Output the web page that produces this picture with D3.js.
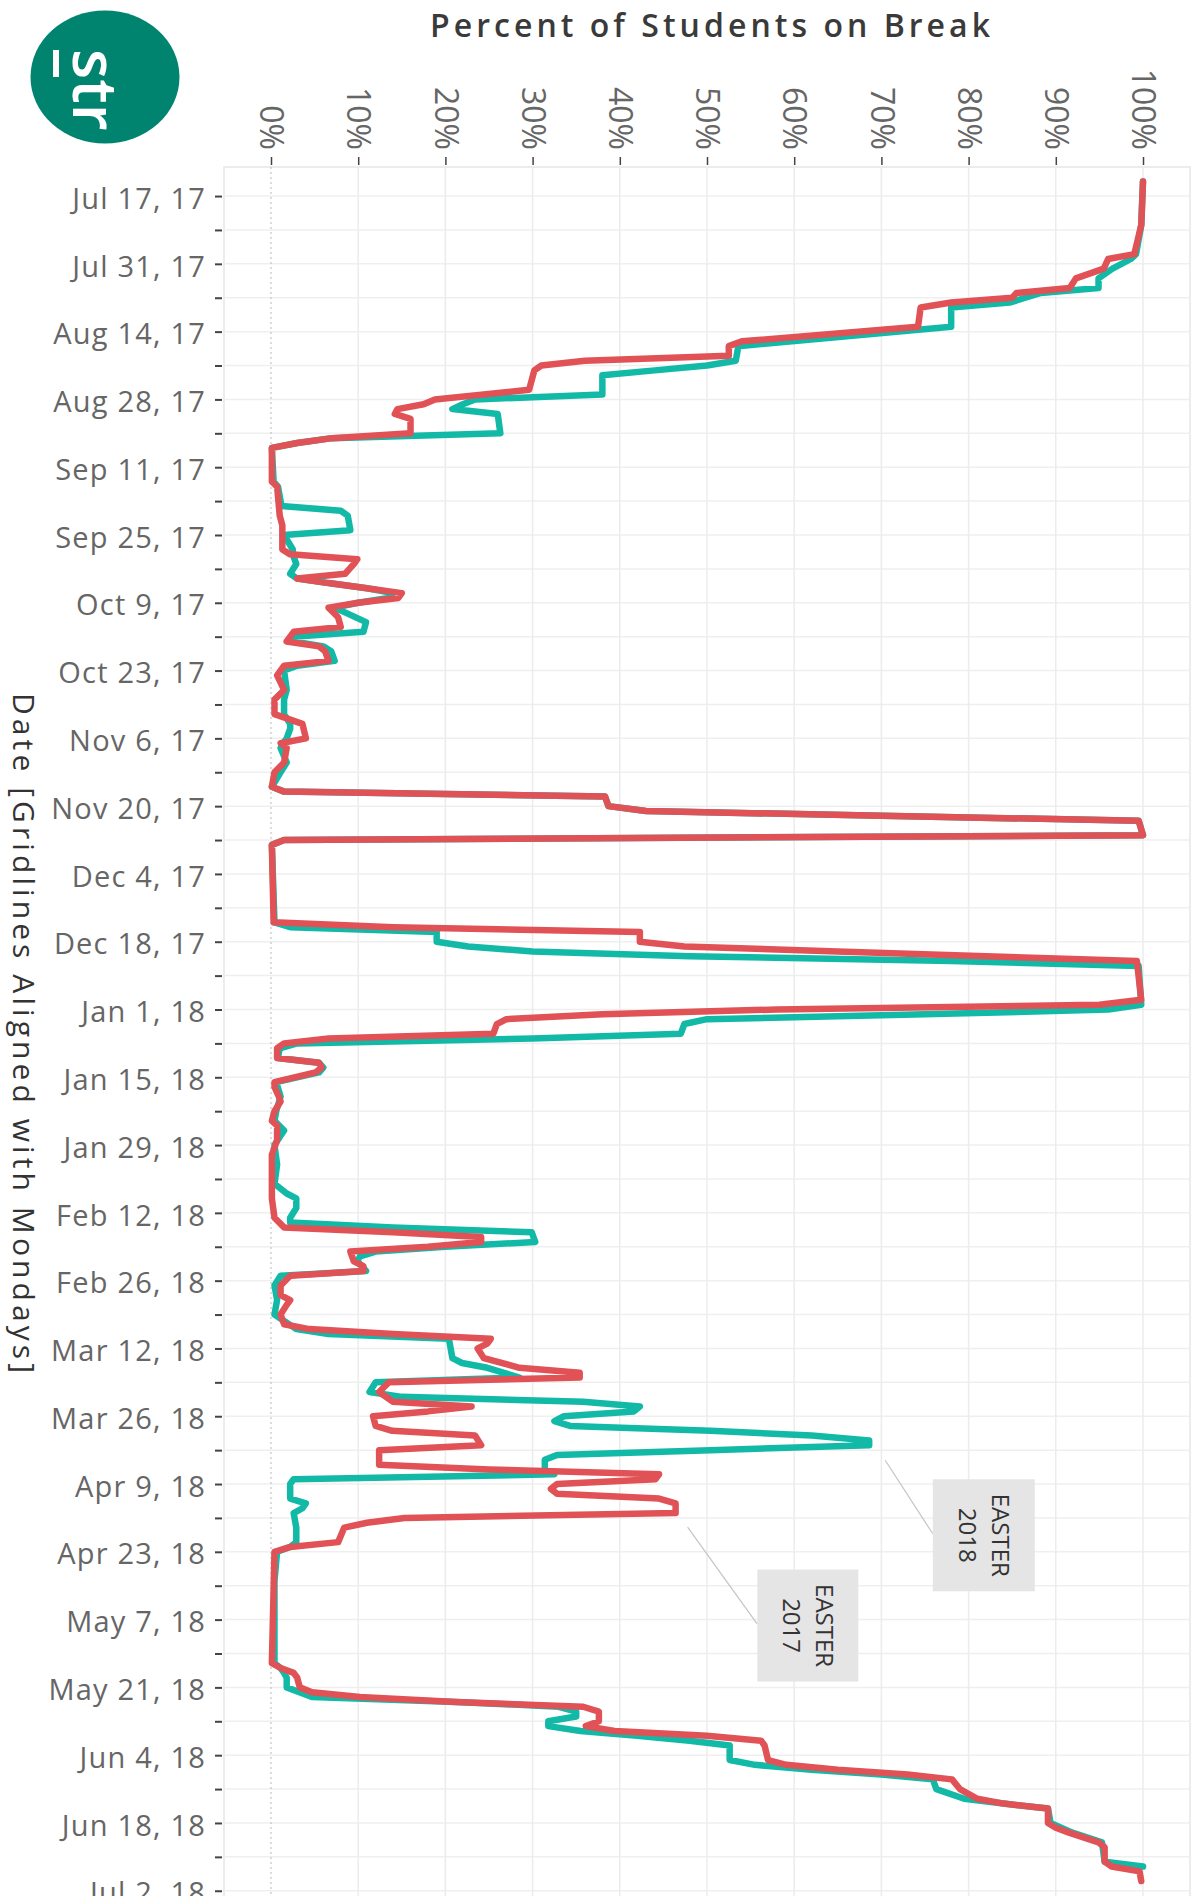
<!DOCTYPE html>
<html><head><meta charset="utf-8">
<script src="https://cdn.jsdelivr.net/npm/d3@7"></script>
<style>
html,body{margin:0;padding:0;background:#fff;}
svg{display:block;font-family:"Open Sans",sans-serif;}
</style></head>
<body>
<svg id="chart" width="1199" height="1896"></svg>
<script>
// ---------- DATA ----------
const chartTitle = "Percent of Students on Break";
const axisTitle = "Date [Gridlines Aligned with Mondays]";
const percentTicks = [0,10,20,30,40,50,60,70,80,90,100];

// Teal series (2017/18 school year)
const teal = [
 ["2017-07-14",100],["2017-07-23",99.8],["2017-07-29",99.2],["2017-07-30",98.6],["2017-08-01",96.5],
 ["2017-08-03",94.9],["2017-08-05",94.9],["2017-08-06",88.3],["2017-08-07",86.5],["2017-08-08",84.7],
 ["2017-08-09",78],["2017-08-13",78],["2017-08-17",53.6],["2017-08-20",53.3],["2017-08-21",50],
 ["2017-08-22",44],["2017-08-23",38],["2017-08-27",38],["2017-08-28",23.4],["2017-08-29",22],
 ["2017-08-30",20.8],["2017-08-31",26],["2017-09-04",26.3],["2017-09-05",7],["2017-09-06",3],
 ["2017-09-07",0.1],["2017-09-14",0.3],["2017-09-15",0.8],["2017-09-19",1.2],["2017-09-20",8],
 ["2017-09-21",8.8],["2017-09-24",9.1],["2017-09-25",1.5],["2017-09-28",2.5],["2017-09-29",2.5],
 ["2017-10-01",2.9],["2017-10-03",2.2],["2017-10-04",3],["2017-10-05",7],["2017-10-06",11],
 ["2017-10-07",14],["2017-10-08",13.5],["2017-10-09",10],["2017-10-10",7.3],["2017-10-13",10.9],
 ["2017-10-15",10.6],["2017-10-16",2.6],["2017-10-17",2.6],["2017-10-18",6],["2017-10-19",6.9],
 ["2017-10-21",7.3],["2017-10-22",3],["2017-10-23",1.5],["2017-10-27",1.8],["2017-10-29",1.5],
 ["2017-11-01",1.5],["2017-11-03",2.2],["2017-11-04",2.2],["2017-11-06",1.8],["2017-11-07",1.4],
 ["2017-11-08",1.1],["2017-11-11",1.8],["2017-11-13",1.1],["2017-11-16",0.1],["2017-11-17",1.5],
 ["2017-11-18",38.3],["2017-11-20",38.7],["2017-11-21",43],["2017-11-22",70],["2017-11-23",99.5],
 ["2017-11-26",100],["2017-11-27",1.5],["2017-11-28",0.1],["2017-12-14",0.4],["2017-12-15",2.2],
 ["2017-12-16",19],["2017-12-18",19],["2017-12-19",22.6],["2017-12-20",30],["2017-12-21",48],
 ["2017-12-22",78],["2017-12-23",99.5],["2017-12-31",99.8],["2018-01-01",96],["2018-01-02",75],
 ["2018-01-03",50],["2018-01-04",47.4],["2018-01-06",47],["2018-01-07",30],["2018-01-08",3],
 ["2018-01-09",1],["2018-01-11",0.8],["2018-01-12",5.5],["2018-01-13",6],["2018-01-14",5.5],
 ["2018-01-16",0.6],["2018-01-19",1.1],["2018-01-22",0.6],["2018-01-24",0.4],["2018-01-26",1.5],
 ["2018-01-29",0.4],["2018-02-02",0.7],["2018-02-06",0.4],["2018-02-08",1.8],["2018-02-09",2.9],
 ["2018-02-11",2.9],["2018-02-13",2.2],["2018-02-14",2.2],["2018-02-15",14],["2018-02-16",29.9],
 ["2018-02-18",30.3],["2018-02-19",20],["2018-02-20",12],["2018-02-21",10.2],["2018-02-22",9.9],
 ["2018-02-24",10.9],["2018-02-25",1.1],["2018-02-27",0.4],["2018-03-02",0.7],["2018-03-05",0.4],
 ["2018-03-08",2.9],["2018-03-09",6.6],["2018-03-10",20.4],["2018-03-14",20.8],["2018-03-15",21.9],
 ["2018-03-16",24.8],["2018-03-18",28.5],["2018-03-19",12],["2018-03-21",11.3],["2018-03-22",15],
 ["2018-03-23",35.8],["2018-03-24",42.3],["2018-03-25",41.6],["2018-03-26",33.6],["2018-03-27",32.5],
 ["2018-03-28",34.3],["2018-03-29",50.4],["2018-03-30",62],["2018-03-31",68.6],["2018-04-01",68.6],
 ["2018-04-02",50.4],["2018-04-03",32.8],["2018-04-04",31.4],["2018-04-06",31.4],["2018-04-07",32.5],
 ["2018-04-08",2.6],["2018-04-09",2.2],["2018-04-12",2.2],["2018-04-13",4],["2018-04-14",3.6],
 ["2018-04-15",2.6],["2018-04-18",2.9],["2018-04-21",2.9],["2018-04-22",2.2],["2018-04-23",0.7],
 ["2018-04-29",0.4],["2018-05-16",0.4],["2018-05-17",1.1],["2018-05-18",1.5],["2018-05-19",1.8],
 ["2018-05-21",1.8],["2018-05-23",4.7],["2018-05-24",21.2],["2018-05-25",33],["2018-05-26",35],
 ["2018-05-27",35],["2018-05-28",31.8],["2018-05-29",31.8],["2018-05-30",35.5],["2018-05-31",42],
 ["2018-06-01",48],["2018-06-02",52.6],["2018-06-05",52.6],["2018-06-06",55.5],["2018-06-07",62],
 ["2018-06-08",70],["2018-06-09",75.9],["2018-06-11",76.3],["2018-06-13",79.5],["2018-06-14",84],
 ["2018-06-15",89.1],["2018-06-18",89.4],["2018-06-20",91.9],["2018-06-22",95.3],["2018-06-26",95.6],
 ["2018-06-27",100]
];

// Red series (2016/17 school year, aligned with Mondays)
const red = [
 ["2017-07-14",100],["2017-07-23",99.8],["2017-07-29",99],["2017-07-30",96],["2017-08-01",95.5],
 ["2017-08-03",92.3],["2017-08-05",91.6],["2017-08-06",85.5],["2017-08-07",85],["2017-08-08",78],
 ["2017-08-09",74.5],["2017-08-13",74.2],["2017-08-16",54],["2017-08-17",52.5],["2017-08-19",52.5],
 ["2017-08-20",36],["2017-08-21",31],["2017-08-22",30.2],["2017-08-26",29.6],["2017-08-28",18.8],
 ["2017-08-29",17.5],["2017-08-30",14.5],["2017-08-31",14.2],["2017-09-01",16],["2017-09-04",16],
 ["2017-09-05",7],["2017-09-06",3],["2017-09-07",0.1],["2017-09-14",0.1],["2017-09-15",0.7],
 ["2017-09-21",1],["2017-09-23",1.3],["2017-09-28",1.3],["2017-09-29",2.2],["2017-09-30",9.9],
 ["2017-10-01",9.5],["2017-10-02",9],["2017-10-03",8.5],["2017-10-04",3],["2017-10-05",7],
 ["2017-10-06",11],["2017-10-07",15],["2017-10-08",14.6],["2017-10-09",10],["2017-10-10",6.6],
 ["2017-10-12",7.7],["2017-10-14",8],["2017-10-15",2.6],["2017-10-17",1.8],["2017-10-18",5.5],
 ["2017-10-19",6.2],["2017-10-21",6.6],["2017-10-22",1.5],["2017-10-24",0.7],["2017-10-27",1.5],
 ["2017-10-29",0.4],["2017-11-01",0.4],["2017-11-03",3.6],["2017-11-06",4],["2017-11-07",1.1],
 ["2017-11-08",1.8],["2017-11-11",1.5],["2017-11-13",0.4],["2017-11-16",0.1],["2017-11-17",1.5],
 ["2017-11-18",38.3],["2017-11-20",38.7],["2017-11-21",43],["2017-11-22",70],["2017-11-23",99.5],
 ["2017-11-26",100],["2017-11-27",1.5],["2017-11-28",0.1],["2017-12-14",0.3],["2017-12-15",14],
 ["2017-12-16",42.3],["2017-12-18",42.3],["2017-12-19",47.4],["2017-12-20",65],["2017-12-21",82],
 ["2017-12-22",99.3],["2017-12-30",99.8],["2017-12-31",95],["2018-01-01",58],["2018-01-02",38],
 ["2018-01-03",27],["2018-01-04",25.9],["2018-01-06",25.5],["2018-01-07",6.6],["2018-01-08",1.5],
 ["2018-01-09",0.7],["2018-01-11",0.7],["2018-01-12",5.5],["2018-01-13",5.8],["2018-01-14",5.1],
 ["2018-01-16",0.4],["2018-01-17",0.4],["2018-01-19",0.9],["2018-01-20",1.1],["2018-01-22",0.4],
 ["2018-01-24",0.1],["2018-01-25",0.7],["2018-01-28",0.7],["2018-01-31",0.1],["2018-02-09",0.1],
 ["2018-02-13",0.4],["2018-02-15",1.5],["2018-02-16",14],["2018-02-17",24.1],["2018-02-18",24.1],
 ["2018-02-19",18],["2018-02-20",9.1],["2018-02-22",9.5],["2018-02-23",10.6],["2018-02-24",10.6],
 ["2018-02-25",2.2],["2018-02-27",1.1],["2018-03-01",1.1],["2018-03-02",2.2],["2018-03-03",1.8],
 ["2018-03-05",1.1],["2018-03-07",1.5],["2018-03-08",4.4],["2018-03-09",14],["2018-03-10",25.2],
 ["2018-03-11",24.8],["2018-03-12",23.7],["2018-03-14",24.4],["2018-03-16",28.5],["2018-03-17",35.4],
 ["2018-03-18",35.4],["2018-03-19",13.5],["2018-03-21",12.4],["2018-03-23",14],["2018-03-24",23],
 ["2018-03-25",18],["2018-03-26",11.7],["2018-03-28",12],["2018-03-29",13.9],["2018-03-30",23.4],
 ["2018-04-01",24.1],["2018-04-02",12.4],["2018-04-05",12.4],["2018-04-06",25],["2018-04-07",44.5],
 ["2018-04-08",44.1],["2018-04-09",32.8],["2018-04-10",32.1],["2018-04-11",32.8],["2018-04-12",44.5],
 ["2018-04-13",46.4],["2018-04-15",46.4],["2018-04-16",15.3],["2018-04-17",11],["2018-04-18",8.4],
 ["2018-04-21",7.7],["2018-04-22",2.2],["2018-04-23",0.4],["2018-05-16",0.1],["2018-05-17",1.1],
 ["2018-05-18",2.6],["2018-05-19",3],["2018-05-21",3.3],["2018-05-22",4.7],["2018-05-23",10.2],
 ["2018-05-24",21.2],["2018-05-25",35.8],["2018-05-26",37.6],["2018-05-28",37.6],["2018-05-29",36.1],
 ["2018-05-30",39.4],["2018-05-31",50],["2018-06-01",56.2],["2018-06-02",56.6],["2018-06-05",57],
 ["2018-06-06",59.1],["2018-06-07",65],["2018-06-08",73],["2018-06-09",78.1],["2018-06-11",79],
 ["2018-06-13",81],["2018-06-14",84],["2018-06-15",89.1],["2018-06-18",89.1],["2018-06-19",90],
 ["2018-06-20",91.5],["2018-06-22",94.9],["2018-06-23",95.6],["2018-06-26",95.6],["2018-06-27",96.4],
 ["2018-06-28",99.6],["2018-06-30",99.8]
];

const annotations = [
 {date:"2018-04-01", value:68.6, lines:["EASTER","2018"]},
 {date:"2018-04-15", value:46.4, lines:["EASTER","2017"]}
];

// ---------- DRAWING ----------
const parse = d3.utcParse("%Y-%m-%d");
const svg = d3.select("#chart");
const panel = {left:224, right:1190, top:167, bottom:1900};

const x = d3.scaleLinear().domain([0,100]).range([271,1143]);
const y = d3.scaleUtc().domain([Date.UTC(2017,6,11), Date.UTC(2018,6,4)]).range([167, 167+358*4.842]);

// logo
const logo = svg.append("g");
logo.append("ellipse").attr("cx",105).attr("cy",77).attr("rx",74.5).attr("ry",66.5).attr("fill","#00846f");
logo.append("text").attr("transform","translate(73,49) rotate(90)")
  .attr("font-size",62).attr("font-weight",600).attr("fill","#fff").text("str");
logo.append("rect").attr("x",53).attr("y",50).attr("width",6).attr("height",27).attr("fill","#fff");

// title
svg.append("text").attr("x",710).attr("y",37).attr("text-anchor","middle")
  .attr("font-size",32).attr("font-weight",600).attr("fill","#3a3a3a")
  .attr("textLength",560).text(chartTitle);

// panel border
svg.append("rect").attr("x",panel.left).attr("y",panel.top)
  .attr("width",panel.right-panel.left).attr("height",panel.bottom-panel.top)
  .attr("fill","none").attr("stroke","#e6e6e6").attr("stroke-width",1.5);

const mondays = d3.utcMonday.range(Date.UTC(2017,6,17), Date.UTC(2018,6,3));

// horizontal gridlines (weekly)
svg.append("g").selectAll("line").data(mondays).join("line")
  .attr("x1",panel.left).attr("x2",panel.right)
  .attr("y1",d=>y(d)).attr("y2",d=>y(d))
  .attr("stroke","#efefef").attr("stroke-width",1.5);

// vertical gridlines
svg.append("g").selectAll("line").data(percentTicks.filter(d=>d>0)).join("line")
  .attr("x1",d=>x(d)).attr("x2",d=>x(d))
  .attr("y1",panel.top).attr("y2",panel.bottom)
  .attr("stroke","#ececec").attr("stroke-width",1.5);
svg.append("line").attr("x1",x(0)).attr("x2",x(0)).attr("y1",panel.top).attr("y2",panel.bottom)
  .attr("stroke","#b8b8b8").attr("stroke-width",1).attr("stroke-dasharray","2,3");

// x axis (top)
const xAxis = svg.append("g").attr("transform","translate(0,165)")
  .call(d3.axisTop(x).tickValues(percentTicks).tickSize(8).tickFormat(d=>d+"%"));
xAxis.select(".domain").remove();
xAxis.selectAll(".tick line").attr("stroke","#444").attr("stroke-width",1.5);
xAxis.selectAll(".tick text")
  .attr("transform","translate(0,-15) rotate(90)")
  .attr("x",0).attr("y",0).attr("dy","0.35em")
  .attr("text-anchor","end")
  .attr("font-family","'Open Sans',sans-serif")
  .attr("font-size",32).attr("fill","#666");

// y axis (left)
const fmt = d3.utcFormat("%b %-d, %y");
const yAxis = svg.append("g").attr("transform","translate(222,0)")
  .call(d3.axisLeft(y).tickValues(mondays).tickSize(7).tickPadding(9)
    .tickFormat((d,i)=> i%2===0 ? fmt(d) : ""));
yAxis.select(".domain").remove();
yAxis.selectAll(".tick line").attr("stroke","#444").attr("stroke-width",2);
yAxis.selectAll(".tick text")
  .attr("font-family","'Open Sans',sans-serif")
  .attr("font-size",29).attr("fill","#666")
  .attr("letter-spacing","1.2px").attr("dy","0.42em");

// axis title
svg.append("text").attr("transform","translate(13,1033) rotate(90)")
  .attr("text-anchor","middle").attr("font-size",30).attr("fill","#333")
  .attr("textLength",680).text(axisTitle);

// lines
const line = d3.line().x(d=>x(d[1])).y(d=>y(parse(d[0]))).curve(d3.curveLinear);
svg.append("path").datum(teal).attr("d",line).attr("fill","none")
  .attr("stroke","#13b9a7").attr("stroke-width",6.5)
  .attr("stroke-linejoin","round").attr("stroke-linecap","round");
svg.append("path").datum(red).attr("d",line).attr("fill","none")
  .attr("stroke","#e05256").attr("stroke-width",6.5)
  .attr("stroke-linejoin","round").attr("stroke-linecap","round");

// annotations
const annLayout = [
  {start:[16,15], box:[114.6,90], w:102, h:112},
  {start:[12,14], box:[132.2,112.5], w:101, h:112}
];
annotations.forEach((a,i)=>{
  const px = x(a.value), py = y(parse(a.date));
  const L = annLayout[i];
  const cx = px + L.box[0], cy = py + L.box[1];
  const bx = cx - L.w/2;
  const by = cy - L.h/2;
  svg.append("line").attr("x1",px+L.start[0]).attr("y1",py+L.start[1])
    .attr("x2",bx).attr("y2",cy-1.5)
    .attr("stroke","#c4c4c4").attr("stroke-width",1.2);
  svg.append("rect").attr("x",bx).attr("y",by).attr("width",L.w).attr("height",L.h).attr("fill","#e5e5e5");
  const t = svg.append("text").attr("transform",`translate(${cx},${cy}) rotate(90)`)
    .attr("text-anchor","middle").attr("font-size",24).attr("fill","#333");
  t.append("tspan").attr("x",0).attr("y",-8).text(a.lines[0]);
  t.append("tspan").attr("x",0).attr("y",25).text(a.lines[1]);
});
</script>
</body></html>
